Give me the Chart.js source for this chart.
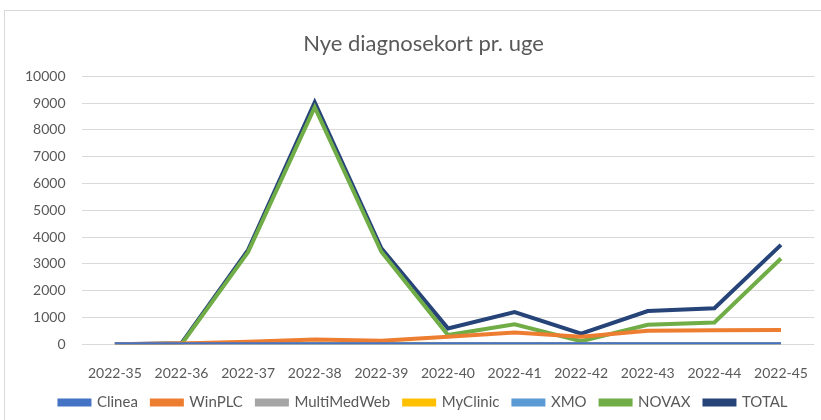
<!DOCTYPE html>
<html>
<head>
<meta charset="utf-8">
<script src="https://cdn.jsdelivr.net/npm/chart.js@4"></script>
<style>
    body { margin: 0; background: #fff; }
    #wrap { position: absolute; left: 0; top: 0; width: 821px; height: 420px; }
    #frame { position: absolute; left: 4px; top: 10px; width: 830px; height: 430px; border: 1px solid #d9d9d9; }
</style>
</head>
<body>
<div id="frame"></div>
<div id="wrap"><canvas id="weekChart"></canvas></div>
<script>
const weeks = ['2022-35', '2022-36', '2022-37', '2022-38', '2022-39', '2022-40', '2022-41', '2022-42', '2022-43', '2022-44', '2022-45'];
const clinea = [0, 0, 0, 0, 0, 0, 0, 0, 0, 0, 0];
const winPLC = [0, 30, 90, 175, 125, 275, 440, 275, 500, 520, 530];
const multiMedWeb = [0, 0, 0, 0, 0, 0, 0, 0, 0, 0, 0];
const myClinic = [0, 20, 20, 20, 15, 10, 10, 10, 10, 10, 10];
const xmo = [0, 0, 0, 0, 0, 0, 0, 0, 0, 0, 0];
const novax = [0, 0, 3440, 8850, 3450, 340, 740, 110, 725, 810, 3200];
const total = [0, 40, 3520, 9030, 3580, 590, 1200, 390, 1240, 1340, 3710];
const yTicks = [0, 1000, 2000, 3000, 4000, 5000, 6000, 7000, 8000, 9000, 10000];

document.addEventListener('DOMContentLoaded', function () {
    const fontFamily = 'Lato, "Open Sans", sans-serif';
    const textColor = '#595959';

    const makeSet = (label, data, color) => ({
        label: label,
        data: data,
        borderColor: color,
        backgroundColor: color,
        borderWidth: 4,
        pointRadius: 0,
        tension: 0
    });

    // nudge legend and title a little to the right, like the original
    const boxShift = {
        id: 'boxShift',
        afterLayout(chart) {
            if (chart.legend) {
                chart.legend.left += 9;
                chart.legend.right += 9;
            }
            if (chart.titleBlock) {
                chart.titleBlock.left += 9;
                chart.titleBlock.right += 9;
            }
        }
    };

    new Chart(document.getElementById('weekChart'), {
        type: 'line',
        data: {
            labels: weeks,
            datasets: [
                makeSet('Clinea', clinea, '#4472c4'),
                makeSet('WinPLC', winPLC, '#ed7d31'),
                makeSet('MultiMedWeb', multiMedWeb, '#a5a5a5'),
                makeSet('MyClinic', myClinic, '#ffc000'),
                makeSet('XMO', xmo, '#5b9bd5'),
                makeSet('NOVAX', novax, '#70ad47'),
                makeSet('TOTAL', total, '#264478')
            ]
        },
        plugins: [boxShift],
        options: {
            responsive: true,
            maintainAspectRatio: false,
            animation: false,
            layout: {
                padding: { top: 31, left: 9, right: 1, bottom: 0 }
            },
            plugins: {
                title: {
                    display: true,
                    text: 'Nye diagnosekort pr. uge',
                    color: textColor,
                    font: { family: fontFamily, size: 22, weight: 'normal' },
                    padding: { top: 0, bottom: 19 }
                },
                legend: {
                    position: 'bottom',
                    labels: {
                        color: textColor,
                        font: { family: fontFamily, size: 15 },
                        boxWidth: 30,
                        boxHeight: 4,
                        padding: 14
                    }
                },
                tooltip: { enabled: false }
            },
            scales: {
                x: {
                    offset: true,
                    grid: { display: false },
                    border: { display: false },
                    afterFit: (axis) => { axis.height -= 14; },
                    ticks: {
                        color: textColor,
                        font: { family: fontFamily, size: 14 },
                        maxRotation: 0,
                        padding: 13
                    }
                },
                y: {
                    min: 0,
                    max: 10000,
                    afterBuildTicks: (axis) => {
                        axis.ticks = yTicks.map(v => ({ value: v }));
                    },
                    grid: { color: '#d9d9d9', lineWidth: 1, drawTicks: false },
                    border: { display: false },
                    ticks: {
                        color: textColor,
                        font: { family: fontFamily, size: 14 },
                        padding: 16,
                        callback: (v) => String(v)
                    }
                }
            }
        }
    });
});
</script>
</body>
</html>
